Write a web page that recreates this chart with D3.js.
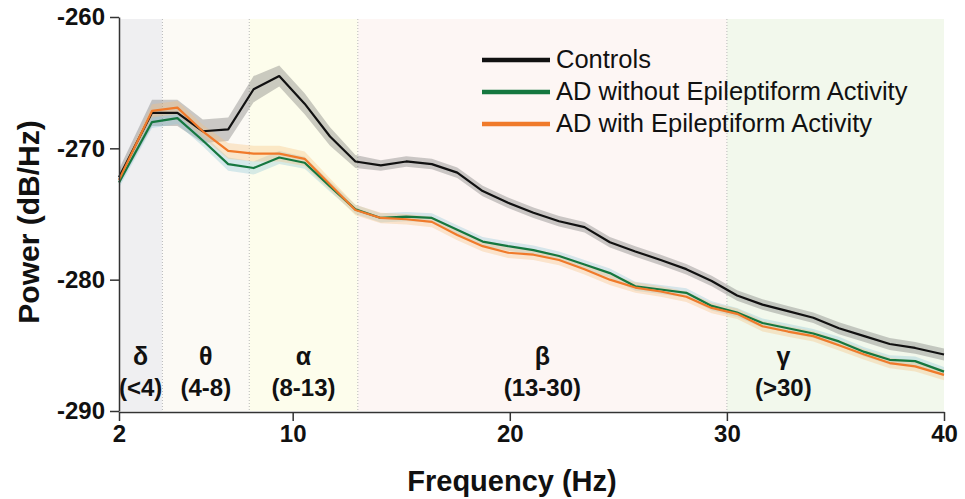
<!DOCTYPE html>
<html lang="en">
<head>
    <meta charset="UTF-8">
    <title>Power spectrum</title>
    <script src="https://cdn.jsdelivr.net/npm/d3@7"></script>
    <style>
        body, html {
            margin: 0;
            background: #ffffff;
            overflow: hidden;
        }
        text {
            font-family: "Liberation Sans", Arial, sans-serif;
            fill: #111;
        }
        .axis path, .axis line {
            stroke: #333;
            stroke-width: 1.5px;
        }
        .axis text {
            font-size: 24px;
            font-weight: bold;
        }
        .band-label {
            font-size: 24px;
            font-weight: bold;
            text-anchor: middle;
        }
        .legend text {
            font-size: 25.5px;
        }
    </style>
</head>
<body>
<script>
// frequencies (Hz) of the spectrum bins
const freqs = [2, 3.52, 4.69, 5.86, 7.03, 8.20, 9.38, 10.55, 11.72, 12.89, 14.06, 15.23, 16.41,
    17.58, 18.75, 19.92, 21.09, 22.27, 23.44, 24.61, 25.78, 26.95, 28.13, 29.30, 30.47,
    31.64, 32.81, 33.98, 35.16, 36.33, 37.50, 38.67, 40];

const controls = [-272.2, -267.3, -267.3, -268.7, -268.55, -265.5, -264.5, -266.6, -269.1, -271.0,
    -271.3, -271.0, -271.2, -271.85, -273.25, -274.15, -274.9, -275.55, -276.0, -277.15,
    -277.85, -278.5, -279.2, -280.1, -281.2, -281.9, -282.4, -282.9, -283.7, -284.3,
    -284.9, -285.2, -285.7];
const adNoEpi = [-272.6, -268.0, -267.7, -269.4, -271.2, -271.5, -270.7, -271.1, -272.9, -274.65,
    -275.3, -275.2, -275.3, -276.2, -277.1, -277.45, -277.75, -278.2, -278.85, -279.5,
    -280.5, -280.75, -281.0, -282.0, -282.5, -283.3, -283.7, -284.1, -284.7, -285.5,
    -286.1, -286.2, -287.0];
const adEpi = [-272.4, -267.15, -266.9, -268.7, -270.2, -270.4, -270.4, -270.8, -272.75, -274.7,
    -275.3, -275.4, -275.6, -276.6, -277.45, -277.95, -278.1, -278.5, -279.2, -280.0,
    -280.6, -280.9, -281.3, -282.15, -282.6, -283.55, -283.95, -284.3, -285.0, -285.7,
    -286.35, -286.6, -287.25];

// shaded error (dB)
const controlsErr = [0.6, 1.0, 1.0, 0.9, 0.9, 1.0, 0.8, 0.8, 0.7, 0.5, 0.4, 0.4, 0.4, 0.4, 0.4, 0.4,
    0.4, 0.4, 0.4, 0.4, 0.4, 0.4, 0.4, 0.4, 0.4, 0.4, 0.4, 0.4, 0.45, 0.45, 0.45, 0.45, 0.45];
const adNoEpiErr = [0.4, 0.45, 0.45, 0.45, 0.5, 0.5, 0.5, 0.45, 0.4, 0.35, 0.35, 0.35, 0.35, 0.35, 0.35, 0.35,
    0.35, 0.35, 0.35, 0.35, 0.35, 0.35, 0.35, 0.35, 0.35, 0.35, 0.35, 0.35, 0.35, 0.35, 0.35, 0.35, 0.35];
const adEpiErr = [0.4, 0.5, 0.5, 0.5, 0.6, 0.6, 0.6, 0.55, 0.45, 0.4, 0.4, 0.4, 0.4, 0.4, 0.4, 0.4,
    0.4, 0.4, 0.4, 0.4, 0.4, 0.4, 0.4, 0.4, 0.4, 0.4, 0.4, 0.4, 0.4, 0.4, 0.4, 0.4, 0.4];

const seriesNames = ["Controls", "AD without Epileptiform Activity", "AD with Epileptiform Activity"];

// frequency bands
const bandNames = ["δ", "θ", "α", "β", "γ"];
const bandRanges = ["(<4)", "(4-8)", "(8-13)", "(13-30)", "(>30)"];
const bandStart = [2, 4, 8, 13, 30];
const bandEnd = [4, 8, 13, 30, 40];
const bandLabelAt = [3, 6, 10.5, 21.5, 32.6];

const xTicks = [2, 10, 20, 30, 40];
const yTicks = [-260, -270, -280, -290];

const width = 965, height = 499;
const margin = {top: 17, right: 21, bottom: 88, left: 119};

const svg = d3.select("body").append("svg")
    .attr("width", width)
    .attr("height", height);

const x = d3.scaleLinear().domain([2, 40]).range([margin.left, width - margin.right]);
const y = d3.scaleLinear().domain([-290, -260]).range([height - margin.bottom, margin.top]);

const bandColors = ["#efeff1", "#fcfaf5", "#fdfdec", "#fdf6f4", "#f2f8ec"];

// band backgrounds
svg.append("g").selectAll("rect")
    .data(bandStart)
    .enter().append("rect")
    .attr("x", (d, i) => x(d))
    .attr("y", y(-260) + 2)
    .attr("width", (d, i) => x(bandEnd[i]) - x(d))
    .attr("height", y(-290) - y(-260) - 2)
    .attr("fill", (d, i) => bandColors[i]);

// dotted boundaries
svg.append("g").selectAll("line")
    .data(bandStart.slice(1))
    .enter().append("line")
    .attr("x1", d => x(d)).attr("x2", d => x(d))
    .attr("y1", y(-260) + 2).attr("y2", y(-290))
    .attr("stroke", "#b8b8b8")
    .attr("stroke-width", 1)
    .attr("stroke-dasharray", "1,2");

// band labels
const lbl = svg.append("g");
lbl.selectAll(".greek")
    .data(bandNames)
    .enter().append("text")
    .attr("class", "band-label")
    .attr("x", (d, i) => x(bandLabelAt[i]))
    .attr("y", 365)
    .style("font-size", "25px")
    .text(d => d);
lbl.selectAll(".range")
    .data(bandRanges)
    .enter().append("text")
    .attr("class", "band-label")
    .attr("x", (d, i) => x(bandLabelAt[i]))
    .attr("y", 396)
    .text(d => d);

// series
const series = [
    {name: seriesNames[0], vals: controls, err: controlsErr, color: "#111111", fill: "#555555", op: 0.3},
    {name: seriesNames[1], vals: adNoEpi, err: adNoEpiErr, color: "#15773f", fill: "#8cc7d6", op: 0.35},
    {name: seriesNames[2], vals: adEpi, err: adEpiErr, color: "#f07a2a", fill: "#f6bf7d", op: 0.35}
];

const area = d3.area()
    .x(d => x(d.f))
    .y0(d => y(d.v - d.e))
    .y1(d => y(d.v + d.e));
const line = d3.line()
    .x(d => x(d.f))
    .y(d => y(d.v));

const plot = svg.append("g");
series.forEach(s => {
    const pts = freqs.map((f, i) => ({f: f, v: s.vals[i], e: s.err[i]}));
    plot.append("path")
        .datum(pts)
        .attr("d", area)
        .attr("fill", s.fill)
        .attr("opacity", s.op);
});
// draw lines: controls first, then green, orange
series.forEach(s => {
    const pts = freqs.map((f, i) => ({f: f, v: s.vals[i]}));
    plot.append("path")
        .datum(pts)
        .attr("d", line)
        .attr("fill", "none")
        .attr("stroke", s.color)
        .attr("stroke-width", 2.2)
        .attr("stroke-linejoin", "round");
});

// axes (plain hyphen for negatives, like the original)
svg.append("g")
    .attr("class", "axis")
    .attr("transform", `translate(0,${y(-290) + 1})`)
    .call(d3.axisBottom(x).tickValues(xTicks).tickFormat(d => String(d))
        .tickSize(9).tickSizeOuter(0).tickPadding(4));

svg.append("g")
    .attr("class", "axis")
    .attr("transform", `translate(${x(2)},0)`)
    .call(d3.axisLeft(y).tickValues(yTicks).tickFormat(d => String(d))
        .tickSize(9).tickSizeOuter(0).tickPadding(5));

// axis titles
svg.append("text")
    .attr("x", 512)
    .attr("y", 491)
    .attr("text-anchor", "middle")
    .style("font-size", "29px")
    .style("font-weight", "bold")
    .text("Frequency (Hz)");

svg.append("text")
    .attr("transform", "translate(39,222) rotate(-90)")
    .attr("text-anchor", "middle")
    .style("font-size", "30px")
    .style("font-weight", "bold")
    .text("Power (dB/Hz)");

// legend
const legendY = [60, 92, 124];
const legend = svg.append("g").attr("class", "legend");
series.forEach((s, i) => {
    legend.append("line")
        .attr("x1", 482).attr("x2", 550)
        .attr("y1", legendY[i]).attr("y2", legendY[i])
        .attr("stroke", s.color)
        .attr("stroke-width", 4.5);
    legend.append("text")
        .attr("x", 556)
        .attr("y", legendY[i] + 8)
        .text(s.name);
});
</script>
</body>
</html>
